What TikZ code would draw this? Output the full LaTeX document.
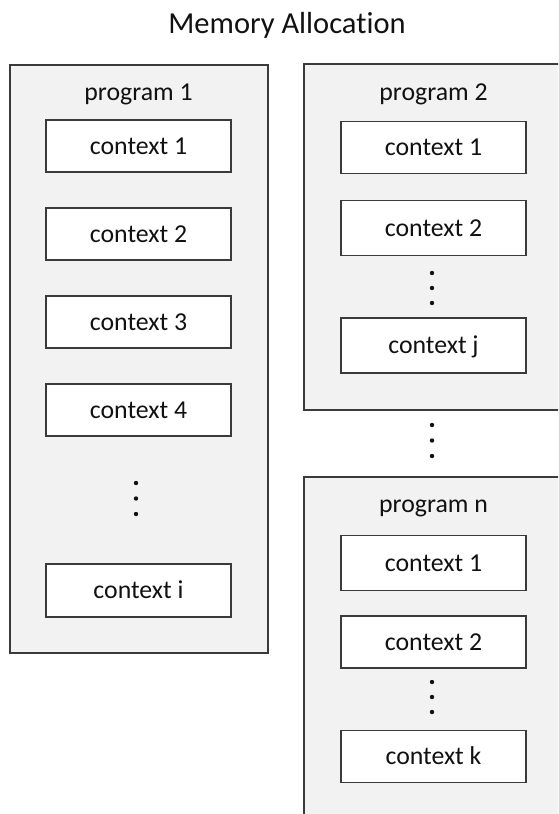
\documentclass[tikz,border=0pt]{standalone}
\usepackage{fontspec}
\setmainfont{Carlito}[Ligatures={NoCommon,NoRare}]
\definecolor{edge}{HTML}{3A3A3A}
\definecolor{panel}{HTML}{F2F2F2}
\definecolor{ink}{HTML}{111111}
\tikzset{
  progbox/.style={draw=edge, line width=1.9pt, fill=panel},
  ctxbox/.style={draw=edge, line width=1.9pt, fill=white, inner sep=0pt,
    font=\fontsize{25.8}{28}\selectfont, text=ink,
    text height=16.6pt, text depth=0pt, minimum width=185pt},
  proglabel/.style={anchor=base, font=\fontsize{25.8}{28}\selectfont, text=ink},
  vdot/.style={circle, fill=ink, inner sep=0pt, minimum size=4.4pt}
}
\begin{document}
\begin{tikzpicture}[x=1pt,y=-1pt]
  \useasboundingbox (0,0) rectangle (558,814);
  \clip (0,0) rectangle (558,814);

  % title
  \node[anchor=base, font=\fontsize{30.5}{34}\selectfont, text=ink] (title) at (287,33) {Memory Allocation};

  % program 1
  \draw[progbox] (10,65) rectangle (268,653);
  \node[proglabel] (p1) at (138.5,100) {program 1};
  \node[ctxbox, minimum height=52pt] (p1c1) at (138.5,146) {context 1};
  \node[ctxbox, minimum height=52pt] (p1c2) at (138.5,234) {context 2};
  \node[ctxbox, minimum height=52pt] (p1c3) at (138.5,322) {context 3};
  \node[ctxbox, minimum height=52pt] (p1c4) at (138.5,410) {context 4};
  \node[vdot] (p1d1) at (136,483) {};
  \node[vdot] (p1d2) at (136,498.5) {};
  \node[vdot] (p1d3) at (136,514) {};
  \node[ctxbox, minimum height=53pt] (p1ci) at (138.5,590.5) {context i};

  % program 2
  \draw[progbox] (304,64) rectangle (570,410);
  \node[proglabel] (p2) at (433.5,100) {program 2};
  \node[ctxbox, minimum height=52pt] (p2c1) at (433.5,147.5) {context 1};
  \node[ctxbox, minimum height=55pt] (p2c2) at (433.5,228) {context 2};
  \node[vdot] (p2d1) at (432,273) {};
  \node[vdot] (p2d2) at (432,288) {};
  \node[vdot] (p2d3) at (432,303) {};
  \node[ctxbox, minimum height=55pt] (p2cj) at (433.5,345.5) {context j};

  % dots between programs
  \node[vdot] (md1) at (432,425) {};
  \node[vdot] (md2) at (432,440.5) {};
  \node[vdot] (md3) at (432,456) {};

  % program n
  \draw[progbox] (304,477) rectangle (570,826);
  \node[proglabel] (pn) at (433.5,512) {program n};
  \node[ctxbox, minimum height=55pt] (pnc1) at (433.5,563) {context 1};
  \node[ctxbox, minimum height=52pt] (pnc2) at (433.5,642) {context 2};
  \node[vdot] (pnd1) at (432,682) {};
  \node[vdot] (pnd2) at (432,697) {};
  \node[vdot] (pnd3) at (432,712) {};
  \node[ctxbox, minimum height=52pt] (pnck) at (433.5,756.5) {context k};
\end{tikzpicture}
\end{document}
